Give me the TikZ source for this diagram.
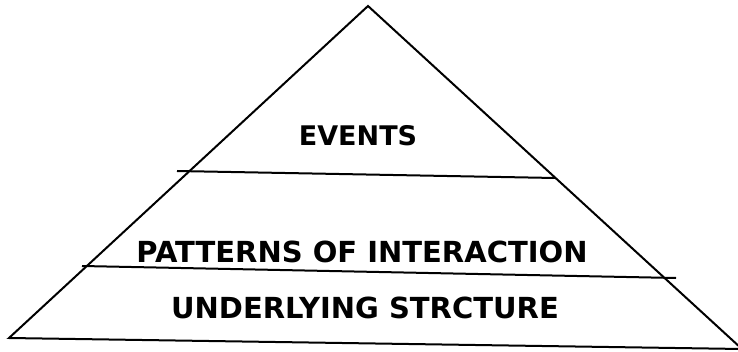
\documentclass[tikz,border=0pt]{standalone}
\usepackage{fontspec}
\setmainfont{DejaVu Sans}
\begin{document}
\begin{tikzpicture}[x=1pt,y=1pt,
  edge/.style={draw=black,line width=2pt,line join=miter},
  level/.style={font=\bfseries\fontsize{29}{34}\selectfont,inner sep=0pt,anchor=center}]
\useasboundingbox (0,0) rectangle (738,351);
\clip (0,0) rectangle (738,351);
% corners of the pyramid
\coordinate (bl) at (9,13);
\coordinate (apex) at (368,345);
\coordinate (br) at (742,2);
% ends of the two dividing lines
\coordinate (d1l) at (177,180);
\coordinate (d1r) at (555,173);
\coordinate (d2l) at (82,85);
\coordinate (d2r) at (676,73);
\draw[edge] (bl) -- (apex) -- (br) -- cycle;
\draw[edge] (d1l) -- (d1r);
\draw[edge] (d2l) -- (d2r);
% level labels
\node[level,font=\bfseries\fontsize{27}{32}\selectfont] (events) at (358,215) {EVENTS};
\node[level] (patterns) at (362,99) {PATTERNS OF INTERACTION};
\node[level] (structure) at (365,43.5) {UNDERLYING STRCTURE};
\end{tikzpicture}
\end{document}
